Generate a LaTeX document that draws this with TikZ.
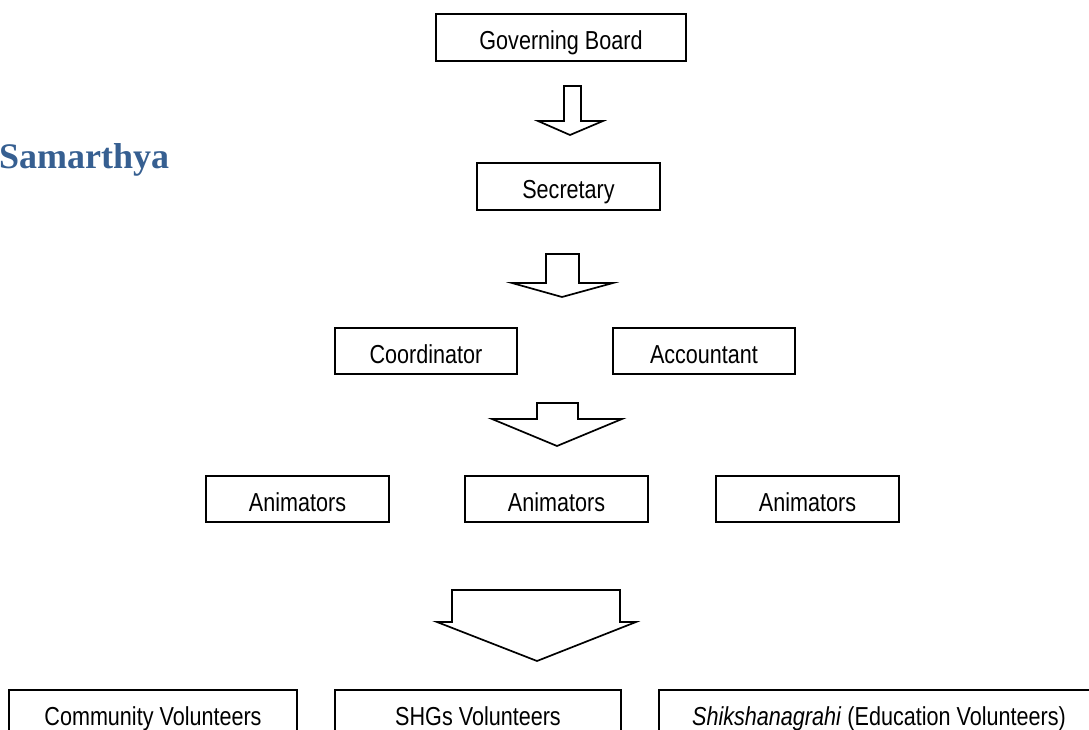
\documentclass[tikz,border=0pt]{standalone}
\usepackage{fontspec}
\setmainfont{Liberation Sans}[FakeStretch=0.83]
\newfontfamily\headfont{Liberation Serif}
\definecolor{headblue}{RGB}{54,95,145}
\begin{document}
\begin{tikzpicture}[x=1pt,y=-1pt,
  box/.style={draw=black, line width=1.7pt, rectangle, inner sep=0pt, outer sep=0pt, minimum height=46pt},
  lbl/.style={anchor=base, inner sep=0pt, font=\fontsize{26}{31}\selectfont},
  blockarrow/.style={draw=black, line width=1.7pt, fill=white, line join=miter}]
\useasboundingbox (0,0) rectangle (1089,730);
\clip (0,0) rectangle (1089,730);
% title
\node[anchor=base west, inner sep=0pt, text=headblue, font=\headfont\bfseries\fontsize{36}{42}\selectfont] (title) at (-1,169) {Samarthya};
% boxes
\node[box, minimum width=250pt, minimum height=47pt] (gov) at (561,37.5) {};
\node[lbl] (govt) at ([yshift=11pt]gov.south) {Governing Board};
\node[box, minimum width=183pt, minimum height=47pt] (sec) at (568.5,186.5) {};
\node[lbl] (sect) at ([yshift=11pt]sec.south) {Secretary};
\node[box, minimum width=182pt] (coord) at (426,351) {};
\node[lbl] (coordt) at ([yshift=11pt]coord.south) {Coordinator};
\node[box, minimum width=182pt] (acct) at (704,351) {};
\node[lbl] (acctt) at ([yshift=11pt]acct.south) {Accountant};
\node[box, minimum width=183pt] (anim1) at (297.5,499) {};
\node[lbl] (anim1t) at ([yshift=11pt]anim1.south) {Animators};
\node[box, minimum width=183pt] (anim2) at (556.5,499) {};
\node[lbl] (anim2t) at ([yshift=11pt]anim2.south) {Animators};
\node[box, minimum width=183pt] (anim3) at (807.5,499) {};
\node[lbl] (anim3t) at ([yshift=11pt]anim3.south) {Animators};
\node[box, minimum width=288pt, minimum height=80pt] (comm) at (153,730) {};
\node[lbl] (commt) at ([yshift=-35pt]comm.north) {Community Volunteers};
\node[box, minimum width=286pt, minimum height=80pt] (shg) at (478,730) {};
\node[lbl] (shgt) at ([yshift=-35pt]shg.north) {SHGs Volunteers};
\node[box, minimum width=440pt, minimum height=80pt] (shik) at (879,730) {};
\node[lbl] (shikt) at ([yshift=-35pt]shik.north) {\textit{Shikshanagrahi} (Education Volunteers)};
% block arrows
\draw[blockarrow] (564,86) -- (581,86) -- (581,121) -- (603,121) -- (570,135) -- (538,121) -- (564,121) -- cycle;
\draw[blockarrow] (546,254) -- (579,254) -- (579,283) -- (613,283) -- (562,297) -- (512,283) -- (546,283) -- cycle;
\draw[blockarrow] (537,403) -- (578,403) -- (578,419) -- (622,419) -- (557,446) -- (492,419) -- (537,419) -- cycle;
\draw[blockarrow] (452,590) -- (620,590) -- (620,622) -- (636,622) -- (537,661) -- (437,622) -- (452,622) -- cycle;
\end{tikzpicture}
\end{document}
